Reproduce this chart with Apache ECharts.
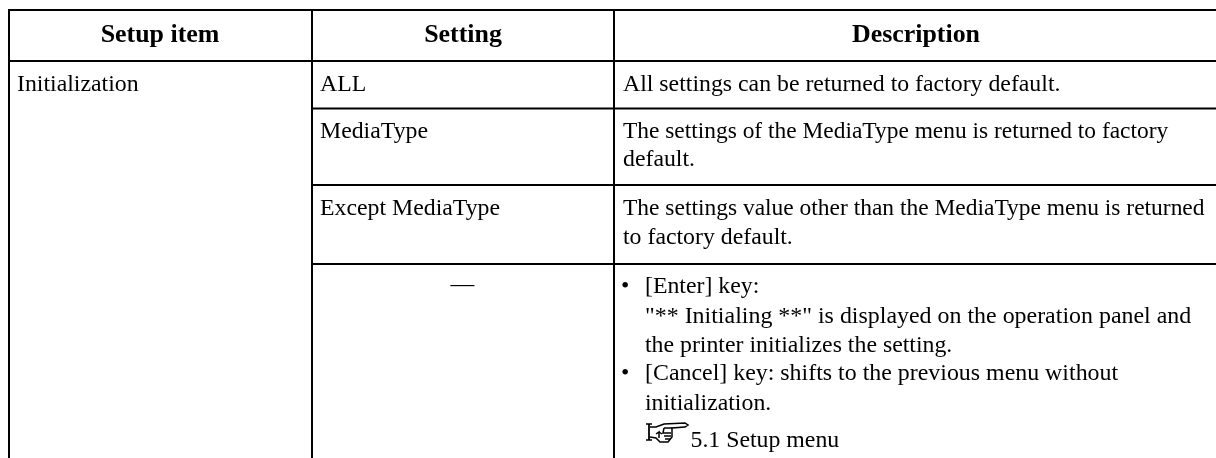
<!DOCTYPE html>
<html><head><meta charset="utf-8"><style>html,body{margin:0;padding:0;background:#fff}#c{width:1216px;height:458px}</style>
<script src="https://cdn.jsdelivr.net/npm/echarts@6/dist/echarts.min.js"></script></head>
<body><div id="c"></div>
<script>
const headers = ['Setup item', 'Setting', 'Description'];
const setupItems = ['Initialization'];
const settings = ['ALL', 'MediaType', 'Except MediaType', '—'];
const descRow1 = ['All settings can be returned to factory default.'];
const descRow2 = ['The settings of the MediaType menu is returned to factory', 'default.'];
const descRow3 = ['The settings value other than the MediaType menu is returned', 'to factory default.'];
const descRow4 = ['[Enter] key:', '"** Initialing **" is displayed on the operation panel and', 'the printer initializes the setting.', '[Cancel] key: shifts to the previous menu without', 'initialization.'];
const bulletLines = [0, 3];
const reference = '5.1 Setup menu';

const FONT = '"Liberation Serif","Times New Roman",serif';
const SIZE = 23.8, HSIZE = 25.9;
const g = [];
function line(x1, y1, x2, y2) {
  g.push({type:'line', shape:{x1,y1,x2,y2}, style:{stroke:'#000', lineWidth:2}, silent:true});
}
function text(str, x, y, opts) {
  opts = opts || {};
  const s = opts.size || SIZE;
  const st = {text:str, fill:'#000', font:(opts.weight ? opts.weight+' ' : '')+s+'px '+FONT, textAlign:opts.align || 'left'};
  g.push({type:'text', x, y:y - 0.64*s, scaleX:opts.sx || 1, silent:true, style:st});
}
function poly(points, w) {
  g.push({type:'polyline', silent:true, shape:{points}, style:{stroke:'#000', lineWidth:w||1.5, fill:null}});
}
// rules
const L = 9, C2 = 312, C3 = 614, R = 1216, B = 458;
[10, 61].forEach(y => line(L-1, y, R, y));
[108.5, 185, 264].forEach(y => line(C2, y, R, y));
line(L, 9, L, B); line(C2, 9, C2, B); line(C3, 9, C3, B);
// header
[160, 463, 916].forEach((x, i) => text(headers[i], x, 39, {size:HSIZE, weight:'bold', align:'center'}));
// body
text(setupItems[0], 17, 88);
text(settings[0], 320, 88);
text(settings[1], 320, 135);
text(settings[2], 320, 212);
text(settings[3], 462.5, 288, {align:'center'});
const X3 = 623;
text(descRow1[0], X3, 88);
descRow2.forEach((s, i) => text(s, X3, [135, 163][i], {sx:i === 0 ? 0.984 : 1}));
descRow3.forEach((s, i) => text(s, X3, [212, 241][i], {sx:i === 0 ? 0.986 : 1}));
const Y4 = [290, 320, 349, 377, 407];
const Y4sx = [1, 1.005, 1, 1.004, 1];
descRow4.forEach((s, i) => {
  text(s, 645, Y4[i], {sx:Y4sx[i]});
  if (bulletLines.includes(i)) text('•', 621, Y4[i]);
});
text(reference, 690.5, 444);
// pointing-hand icon
poly([[646,424],[652,424]]); poly([[646,440],[652,440]]); poly([[649,424],[649,440]], 1.8);
poly([[650,427],[656,427],[664,424],[685,423],[688,425],[685,427],[672,428],[672,437],[668,442],[660,442],[656,438],[650,437]]);
poly([[664,428],[672,428]]); poly([[664,428],[663,433],[671,433]]); poly([[664,436],[671,436]]); poly([[665,439],[670,439]]);
poly([[659,438],[659,432],[656,434]]); poly([[659,432],[662,434]]);
echarts.init(document.getElementById('c'), null, {renderer:'canvas'}).setOption({animation:false, backgroundColor:'#fff', graphic:{elements:g}});
</script></body></html>
